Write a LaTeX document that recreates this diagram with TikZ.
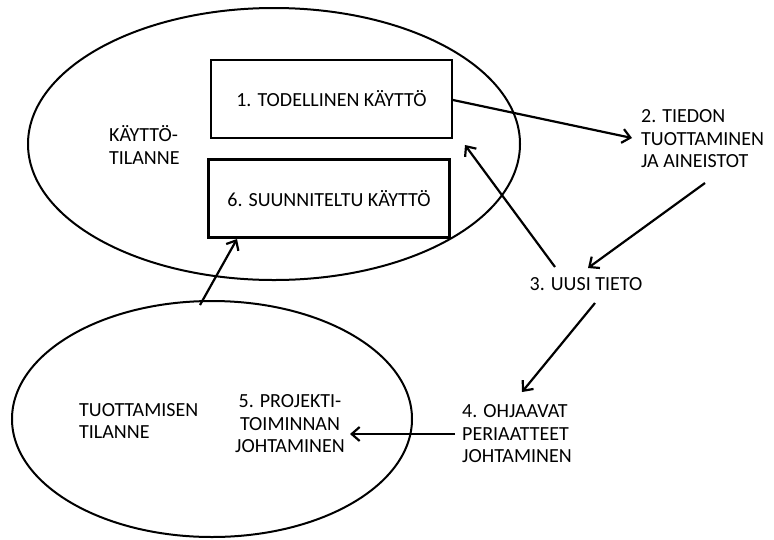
\documentclass[tikz,border=0pt]{standalone}
\usepackage{fontspec}
\setmainfont{Carlito}
\usetikzlibrary{arrows.meta}
\tikzset{
  lbl/.style={font=\fontsize{20}{22.5}\selectfont, inner sep=0pt},
  boxnode/.style={draw, line width=2.2pt, minimum width=241pt, minimum height=78pt, inner sep=0pt},
  arr/.style={line width=2.2pt, -{Straight Barb[length=8pt,width=14pt,line width=2.2pt]}},
  ell/.style={line width=2pt}
}
\begin{document}
\begin{tikzpicture}[x=1pt,y=-1pt]
\useasboundingbox[fill=white] (0,0) rectangle (774,539);
% ellipses
\draw[ell] (274,144) ellipse [x radius=246, y radius=136];
\draw[ell] (212,419) ellipse [x radius=200, y radius=118];
% boxes
\node[boxnode] (b1) at (331.5,99) {};
\node[lbl] at (b1.center) {1. TODELLINEN KÄYTTÖ};
\node[boxnode] (b6) at (329,198.5) {};
\node[lbl] at (b6.center) {6. SUUNNITELTU KÄYTTÖ};
% labels
\node[lbl, align=left, anchor=west] (kt) at (109,145) {KÄYTTÖ-\\TILANNE};
\node[lbl, align=left, anchor=west] (n2) at (641,139) {2. TIEDON\\TUOTTAMINEN\\JA AINEISTOT};
\node[lbl] (n3) at (586,284) {3. UUSI TIETO};
\node[lbl, align=left, anchor=west] (n4) at (462,434) {4. OHJAAVAT\\PERIAATTEET\\JOHTAMINEN};
\node[lbl, align=center] (n5) at (290,424) {5. PROJEKTI-\\TOIMINNAN\\JOHTAMINEN};
\node[lbl, align=left, anchor=west] (tt) at (79,421) {TUOTTAMISEN\\TILANNE};
% connectors
\coordinate (a1s) at (453,100);
\coordinate (a1e) at (632,138);
\draw[arr] (a1s) -- (a1e);
\coordinate (a2s) at (705,183);
\coordinate (a2e) at (588,268);
\draw[arr] (a2s) -- (a2e);
\coordinate (a3s) at (555,267);
\coordinate (a3e) at (465,145);
\draw[arr] (a3s) -- (a3e);
\coordinate (a4s) at (595,303);
\coordinate (a4e) at (522,392);
\draw[arr] (a4s) -- (a4e);
\coordinate (a5s) at (455,434);
\coordinate (a5e) at (350,434);
\draw[arr] (a5s) -- (a5e);
\coordinate (a6s) at (200,305);
\coordinate (a6e) at (237,239);
\draw[arr] (a6s) -- (a6e);
\end{tikzpicture}
\end{document}
